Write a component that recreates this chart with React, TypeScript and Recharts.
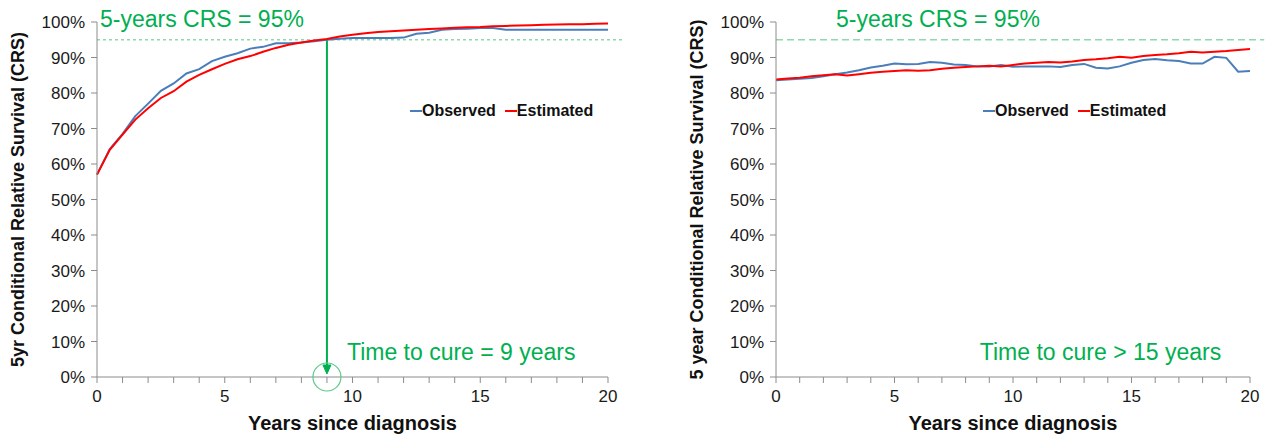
import React from 'react';
import { LineChart, Line, XAxis, YAxis, ReferenceLine, ReferenceDot, Legend } from 'recharts';

const years = [0, 0.5, 1, 1.5, 2, 2.5, 3, 3.5, 4, 4.5, 5, 5.5, 6, 6.5, 7, 7.5, 8, 8.5, 9, 9.5, 10,
  10.5, 11, 11.5, 12, 12.5, 13, 13.5, 14, 14.5, 15, 15.5, 16, 16.5, 17, 17.5, 18, 18.5, 19, 19.5, 20];

const leftObserved = [57, 64.2, 68.5, 73.5, 77, 80.6, 82.7, 85.5, 86.7, 89, 90.2, 91.2, 92.5, 93, 94, 94, 94.2, 94.6, 95, 95.3, 95.5,
  95.5, 95.5, 95.5, 95.6, 96.7, 97, 97.8, 98, 98.1, 98.3, 98.3, 97.8, 97.8, 97.8, 97.8, 97.8, 97.8, 97.8, 97.8, 97.8];
const leftEstimated = [57, 64, 68.3, 72.5, 75.7, 78.6, 80.5, 83.2, 85.1, 86.7, 88.2, 89.5, 90.4, 91.6, 92.7, 93.6, 94.2, 94.8, 95.2, 95.9, 96.4,
  96.8, 97.2, 97.4, 97.6, 97.8, 98, 98.2, 98.4, 98.5, 98.6, 98.8, 98.9, 99, 99.1, 99.2, 99.3, 99.35, 99.4, 99.5, 99.6];

const rightObserved = [83.6, 83.8, 84.0, 84.2, 84.7, 85.3, 85.8, 86.4, 87.2, 87.7, 88.3, 88.1, 88.2, 88.7, 88.5, 88.0, 87.9, 87.5, 87.5, 87.9, 87.4,
  87.5, 87.5, 87.5, 87.3, 87.9, 88.2, 87.1, 86.9, 87.5, 88.5, 89.3, 89.6, 89.2, 89.0, 88.3, 88.3, 90.2, 89.9, 86.0, 86.2];
const rightEstimated = [83.8, 84.1, 84.3, 84.7, 85.0, 85.3, 84.9, 85.3, 85.7, 86.0, 86.2, 86.4, 86.3, 86.4, 86.8, 87.1, 87.3, 87.5, 87.7, 87.5, 87.9,
  88.3, 88.5, 88.7, 88.6, 88.9, 89.3, 89.5, 89.8, 90.2, 89.9, 90.4, 90.7, 90.9, 91.2, 91.6, 91.4, 91.6, 91.8, 92.1, 92.4];

const xTicks = [0, 1, 2, 3, 4, 5, 6, 7, 8, 9, 10, 11, 12, 13, 14, 15, 16, 17, 18, 19, 20];
const xLabelTicks = [0, 5, 10, 15, 20];
const yTicks = [0, 10, 20, 30, 40, 50, 60, 70, 80, 90, 100];

const seriesNames = ['Observed', 'Estimated'];
const crsTarget = 95;
const crsLineEnd = 20.6;
const cureYear = 9;

const titleText = '5-years CRS = 95%';
const leftCureText = 'Time to cure = 9 years';
const rightCureText = 'Time to cure > 15 years';
const xTitle = 'Years since diagnosis';
const leftYTitle = '5yr Conditional Relative Survival (CRS)';
const rightYTitle = '5 year Conditional Relative Survival (CRS)';

const BLUE = '#4A7EBB';
const RED = '#FF0000';
const GREEN = '#00B050';
const LIGHT_GREEN = '#8ED9AC';
const AXIS = '#8C8C8C';
const FONT = '"Liberation Sans", Arial, sans-serif';

const buildData = (obs: number[], est: number[]) =>
  years.map((y, i) => ({ year: y, observed: obs[i], estimated: est[i] }));

const leftData = buildData(leftObserved, leftEstimated);
const rightData = buildData(rightObserved, rightEstimated);

const legendContent = (props: any) => {
  const payload = [...(props.payload || [])].sort(
    (a: any, b: any) => seriesNames.indexOf(a.value) - seriesNames.indexOf(b.value)
  );
  return (
    <div style={{ display: 'flex', fontFamily: FONT, fontWeight: 'bold', fontSize: 16, color: '#111', whiteSpace: 'nowrap' }}>
      {payload.map((p: any, i: number) => (
        <span key={i} style={{ display: 'flex', alignItems: 'center', marginRight: 9 }}>
          <span style={{ display: 'inline-block', width: 12, height: 2, background: p.color }} />
          <span>{p.value}</span>
        </span>
      ))}
    </div>
  );
};

const titleLabel = (dx: number) => (props: any) => {
  const vb = props.viewBox || {};
  return (
    <text x={vb.x + dx} y={vb.y - 21} dy="0.35em" fill={GREEN} fontFamily={FONT} fontSize={23}>
      {titleText}
    </text>
  );
};

const cureLabel = (text: string, dx: number) => (props: any) => {
  const vb = props.viewBox || {};
  return (
    <text x={vb.x + dx} y={vb.y - 25} dy="0.35em" fill={GREEN} fontFamily={FONT} fontSize={23}>
      {text}
    </text>
  );
};

const arrowShape = (props: any) => {
  const { x1, y1, x2, y2 } = props;
  const tipY = y2 - 3;
  return (
    <g>
      <line x1={x1} y1={y1} x2={x2} y2={tipY - 2} stroke={GREEN} strokeWidth={2} />
      <path d={`M ${x2 - 4} ${tipY - 9} L ${x2} ${tipY} L ${x2 + 4} ${tipY - 9} Z`} fill={GREEN} stroke={GREEN} strokeWidth={1} />
    </g>
  );
};

const xTickFormatter = (v: number) => (xLabelTicks.includes(v) ? String(v) : '');
const yTickFormatter = (v: number) => `${v}%`;

const tickStyle = { fontFamily: FONT, fontSize: 17, fill: '#1a1a1a' };

type PanelProps = {
  data: any[];
  width: number;
  yAxisWidth: number;
  rightMargin: number;
  yTitle: string;
  cureText: string;
  showArrow: boolean;
  legendLeft: number;
  dashArray: string;
  yTitleOffset: number;
  titleDx: number;
};

const Panel = ({ data, width, yAxisWidth, rightMargin, yTitle, cureText, showArrow, legendLeft, dashArray, yTitleOffset, titleDx }: PanelProps) => (
  <LineChart width={width} height={434} data={data} margin={{ top: 22, right: rightMargin, bottom: 0, left: 0 }}>
    <XAxis
      type="number"
      dataKey="year"
      domain={[0, 20]}
      ticks={xTicks}
      interval={0}
      tickFormatter={xTickFormatter}
      tick={tickStyle}
      tickSize={6}
      tickMargin={7}
      height={57}
      stroke={AXIS}
      label={{ value: xTitle, position: 'insideBottom', offset: 4, style: { fontFamily: FONT, fontWeight: 'bold', fontSize: 20, fill: '#111' } }}
    />
    <YAxis
      type="number"
      domain={[0, 100]}
      ticks={yTicks}
      interval={0}
      tickFormatter={yTickFormatter}
      tick={tickStyle}
      tickSize={6}
      tickMargin={6}
      width={yAxisWidth}
      stroke={AXIS}
      label={{ value: yTitle, angle: -90, position: 'insideLeft', offset: yTitleOffset, style: { textAnchor: 'middle', fontFamily: FONT, fontWeight: 'bold', fontSize: 18, fill: '#111' } }}
    />
    <Legend
      layout="horizontal"
      verticalAlign="middle"
      align="center"
      content={legendContent}
      wrapperStyle={{ position: 'absolute', left: legendLeft, top: 102, width: 'auto' }}
    />
    <ReferenceLine
      segment={[{ x: 0, y: crsTarget }, { x: crsLineEnd, y: crsTarget }]}
      stroke={LIGHT_GREEN}
      strokeWidth={1.5}
      strokeDasharray={dashArray}
      ifOverflow="visible"
      label={titleLabel(titleDx)}
    />
    {showArrow && (
      <ReferenceLine
        segment={[{ x: cureYear, y: crsTarget }, { x: cureYear, y: 0 }]}
        ifOverflow="visible"
        shape={arrowShape}
      />
    )}
    {showArrow && (
      <ReferenceDot x={cureYear} y={0} r={14} fill="none" stroke="#5CC98A" strokeWidth={1.2} ifOverflow="visible" />
    )}
    <ReferenceDot
      x={showArrow ? cureYear : 8.6}
      y={0}
      r={0}
      fill="none"
      stroke="none"
      ifOverflow="visible"
      label={cureLabel(cureText, showArrow ? 20 : 0)}
    />
    <Line type="linear" dataKey="observed" name={seriesNames[0]} stroke={BLUE} strokeWidth={2} dot={false} isAnimationActive={false} />
    <Line type="linear" dataKey="estimated" name={seriesNames[1]} stroke={RED} strokeWidth={2} dot={false} isAnimationActive={false} />
  </LineChart>
);

export default function App() {
  return (
    <div style={{ position: 'absolute', left: 0, top: 0, width: 1269, height: 434, background: '#fff' }}>
      <div style={{ position: 'absolute', left: 0, top: 0 }}>
        <Panel data={leftData} width={640} yAxisWidth={97} rightMargin={32} yTitle={leftYTitle} cureText={leftCureText} showArrow={true} legendLeft={410} dashArray="3 3" yTitleOffset={18} titleDx={3} />
      </div>
      <div style={{ position: 'absolute', left: 640, top: 0 }}>
        <Panel data={rightData} width={629} yAxisWidth={136} rightMargin={19} yTitle={rightYTitle} cureText={rightCureText} showArrow={false} legendLeft={343} dashArray="7 4" yTitleOffset={57} titleDx={60} />
      </div>
    </div>
  );
}
